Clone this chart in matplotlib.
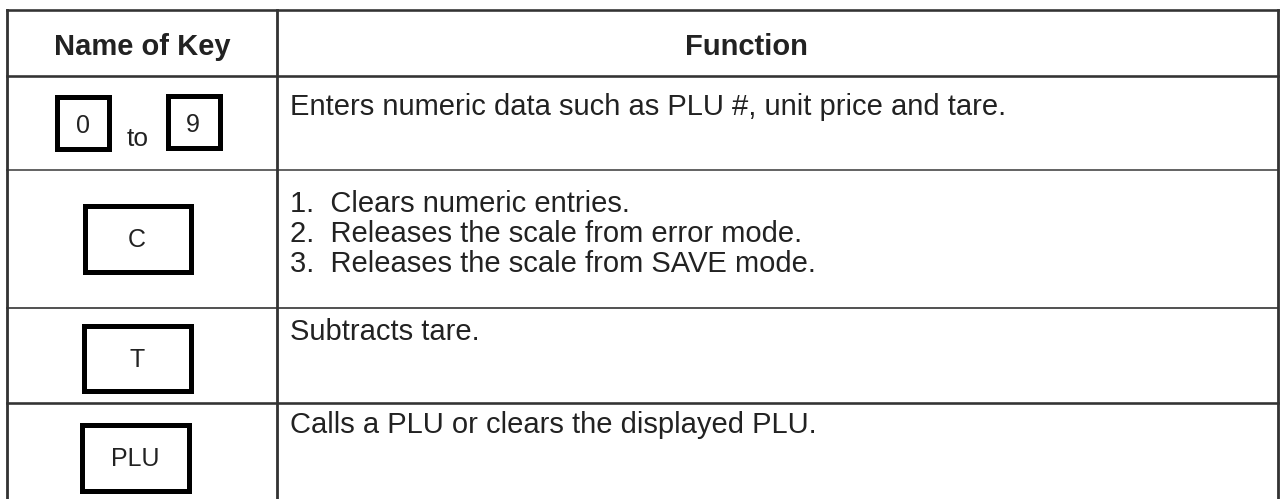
"""
Key function table: key names drawn as boxed keycaps, functions on the right.
"""
import matplotlib
matplotlib.use("Agg")
import matplotlib.pyplot as plt
from matplotlib.patches import Rectangle

W, H = 1281, 499
FONT = "Liberation Sans"
INK = "#222222"

# table content
HEADERS = ["Name of Key", "Function"]
KEYS = [["0", "9"], ["C"], ["T"], ["PLU"]]
FUNCTIONS = [
    ["Enters numeric data such as PLU #, unit price and tare."],
    ["1.  Clears numeric entries.",
     "2.  Releases the scale from error mode.",
     "3.  Releases the scale from SAVE mode."],
    ["Subtracts tare."],
    ["Calls a PLU or clears the displayed PLU."],
]

# layout (pixels)
LEFT, DIVIDER, RIGHT = 7, 277, 1278
ROW_EDGES = [10, 76, 170, 308, 403, H + 5]
EDGE_COLORS = ["#333333", "#333333", "#666666", "#555555", "#333333"]
HEADER_X = [142, 746]
TEXT_X = 290
BASELINES = [[115], [212, 242, 272], [340], [433]]
# keycap boxes: (x0, y0, x1, y1) outer edges, label centre x and baseline
KEY_BOXES = [
    [((54, 94, 111, 151), (83, 133)), ((165, 93, 222, 150), (193, 132))],
    [((82, 203, 193, 274), (137, 247))],
    [((81, 323, 193, 393), (137, 367))],
    [((79, 422, 191, 493), (135, 466))],
]
BOX_LW = 5  # px


def px(n):
    return n * 72 / 100


def main():
    fig = plt.figure(figsize=(W / 100, H / 100), dpi=100)
    ax = fig.add_axes([0, 0, 1, 1])
    ax.set_xlim(0, W)
    ax.set_ylim(H, 0)
    ax.axis("off")

    # grid lines
    for y, c in zip(ROW_EDGES[:-1], EDGE_COLORS):
        lw = 2.6 if c == "#333333" else 2.0
        ax.plot([LEFT, RIGHT], [y, y], color=c, lw=px(lw), solid_capstyle="projecting")
    for x in (LEFT, DIVIDER, RIGHT):
        ax.plot([x, x], [ROW_EDGES[0], ROW_EDGES[-1]], color="#333333",
                lw=px(2.8), solid_capstyle="projecting")

    # header
    for hx, label in zip(HEADER_X, HEADERS):
        ax.text(hx, 55, label, ha="center", va="baseline",
                fontsize=21, fontweight="bold", family=FONT, color=INK)

    # keycaps
    for names, boxes in zip(KEYS, KEY_BOXES):
        for name, ((x0, y0, x1, y1), (cx, by)) in zip(names, boxes):
            h = BOX_LW / 2
            ax.add_patch(Rectangle((x0 + h, y0 + h), x1 - x0 - BOX_LW, y1 - y0 - BOX_LW,
                                   fill=False, ec="black", lw=px(BOX_LW),
                                   joinstyle="miter"))
            ax.text(cx, by, name, ha="center", va="baseline", fontsize=18,
                    family=FONT, color=INK)
    ax.text(138, 146, "to", ha="center", va="baseline", fontsize=19,
            family=FONT, color=INK)

    # function descriptions
    for lines, ys in zip(FUNCTIONS, BASELINES):
        for line, y in zip(lines, ys):
            ax.text(TEXT_X, y, line, ha="left", va="baseline", fontsize=21,
                    family=FONT, color=INK)

    fig.savefig("out.png", dpi=100)


if __name__ == "__main__":
    main()
